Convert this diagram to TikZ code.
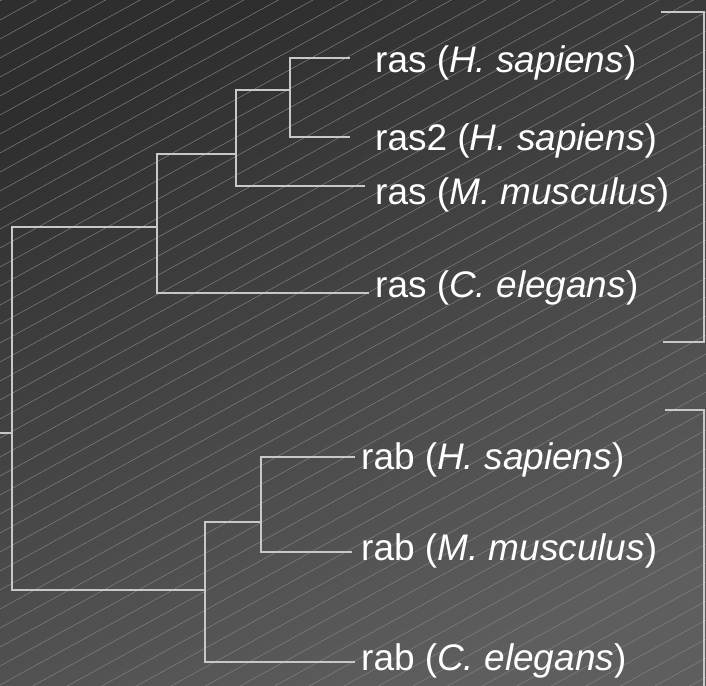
\documentclass[tikz,border=0pt]{standalone}
\usepackage{fontspec}
\setmainfont{Liberation Sans}

\definecolor{bgtop}{HTML}{2E2E2E}
\definecolor{bgbottom}{HTML}{5E5E5E}
\definecolor{hatchgray}{HTML}{858585}
\definecolor{treegray}{HTML}{C8C8C8}

\begin{document}
\begin{tikzpicture}[x=1pt, y=-1pt,
    branch/.style={draw=treegray, line width=1.6pt},
    hatch/.style={draw=hatchgray, line width=0.45pt},
    leaf/.style={anchor=base west, inner sep=0pt, text=white, font=\fontsize{37}{40}\selectfont}]
    \useasboundingbox (0,0) rectangle (706,685);
    \fill[top color=bgtop, bottom color=bgbottom, shading angle=25] (0,0) rectangle (706,685);
    \begin{scope}
        \clip (0,0) rectangle (706,685);
        \foreach \k in {-1,...,57}
            \draw[hatch] (0,{20+19*\k}) -- (706,{20+19*\k-388});
    \end{scope}

    % leaves
    \node[leaf] (rasHs)  at (375,73)  {ras (\textit{H. sapiens})};
    \node[leaf] (ras2Hs) at (375,150) {ras2 (\textit{H. sapiens})};
    \node[leaf] (rasMm)  at (375,204) {ras (\textit{M. musculus})};
    \node[leaf] (rasCe)  at (375,297) {ras (\textit{C. elegans})};
    \node[leaf] (rabHs)  at (361,469) {rab (\textit{H. sapiens})};
    \node[leaf] (rabMm)  at (361,560) {rab (\textit{M. musculus})};
    \node[leaf] (rabCe)  at (361,670) {rab (\textit{C. elegans})};

    % branch tips and inner nodes
    \coordinate (tHs)  at (350,58);
    \coordinate (t2Hs) at (350,137);
    \coordinate (tMm)  at (365,186);
    \coordinate (tCe)  at (369,293);
    \coordinate (uHs)  at (355,457);
    \coordinate (uMm)  at (352,552);
    \coordinate (uCe)  at (355,662);
    \coordinate (stem) at (0,433);
    \coordinate (n0) at (12,433);
    \coordinate (n1) at (157,227);
    \coordinate (n2) at (236,154);
    \coordinate (n3) at (290,90);
    \coordinate (n4) at (205,590);
    \coordinate (n5) at (261,522);

    \draw[branch] (tHs) -| (n3 |- t2Hs) -- (t2Hs);
    \draw[branch] (n3) -| (n2 |- tMm) -- (tMm);
    \draw[branch] (n2) -| (n1 |- tCe) -- (tCe);
    \draw[branch] (uHs) -| (n5 |- uMm) -- (uMm);
    \draw[branch] (n5) -| (n4 |- uCe) -- (uCe);
    \draw[branch] (n1) -| (n0 |- n4) -- (n4);
    \draw[branch] (stem) -- (n0);

    % group brackets
    \draw[branch] (661,12) -- (704,12) -- (704,342) -- (663,342);
    \draw[branch] (665,410) -- (704,410) -- (704,690);
\end{tikzpicture}
\end{document}
